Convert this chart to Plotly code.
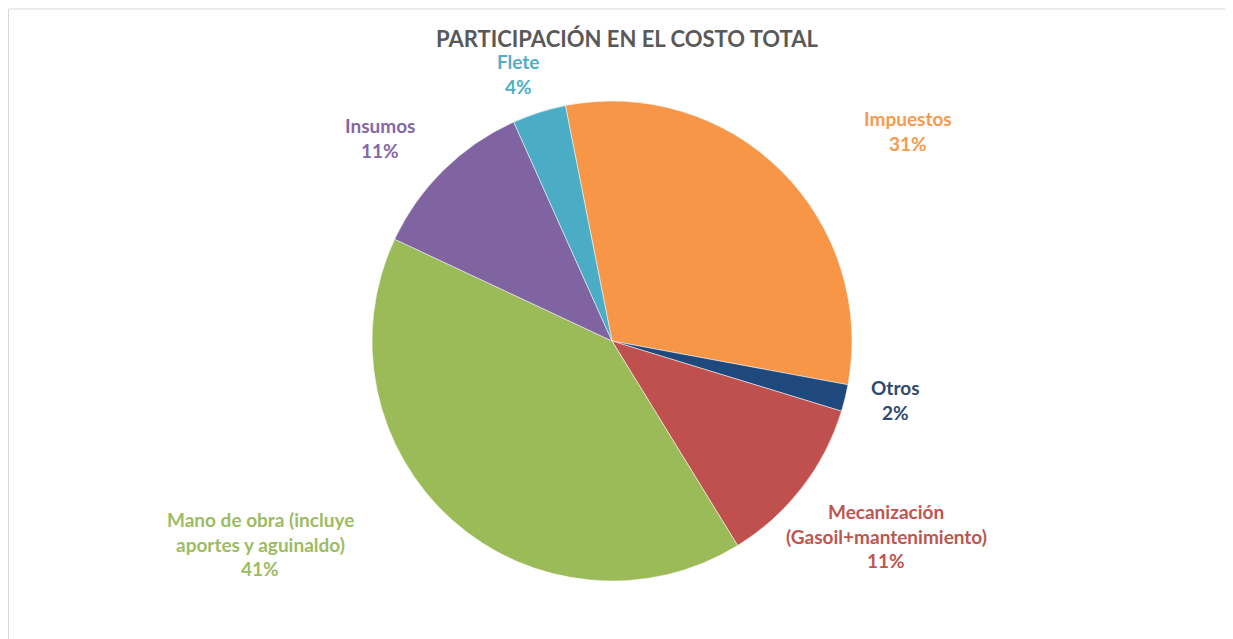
import plotly.graph_objects as go

W, H = 1233, 639
OFF = 8  # page offset of the rendered figure

labels = ["Impuestos", "Otros", "Mecanización<br>(Gasoil+mantenimiento)",
          "Mano de obra (incluye<br>aportes y aguinaldo)", "Insumos", "Flete"]
values = [31.0, 1.8, 11.5, 40.7, 11.3, 3.6]
pct_text = ["31%", "2%", "11%", "41%", "11%", "4%"]
colors = ["#F79646", "#1F497D", "#C0504D", "#9BBB59", "#8064A2", "#4BACC6"]
label_colors = ["#F59A4E", "#2E4A6E", "#BE5550", "#9DBC62", "#8468A4", "#4FAFC8"]
# label block centres (pixels) as placed in the reference
label_pos = [(908, 131), (895, 400), (886, 536), (260, 544), (380, 138), (518, 74)]

cx, cy, r = 612 - OFF, 341 - OFF, 240

fig = go.Figure()
fig.add_trace(go.Pie(
    labels=labels, values=values, sort=False, direction="clockwise",
    rotation=-11.2, textinfo="none", hoverinfo="label+percent",
    marker=dict(colors=colors, line=dict(color="white", width=0.5)),
    domain=dict(x=[(cx - r) / W, (cx + r) / W], y=[1 - (cy + r) / H, 1 - (cy - r) / H]),
    showlegend=False,
))

font_family = "Lato, Open Sans, sans-serif"
line_h = 24.5
annotations = []
for lab, pct, col, (px, py) in zip(labels, pct_text, label_colors, label_pos):
    lines = lab.split("<br>") + [pct]
    n = len(lines)
    for i, ln in enumerate(lines):
        y = py - OFF + (i - (n - 1) / 2) * line_h
        annotations.append(dict(
            x=(px - OFF) / W, y=1 - y / H, xref="paper", yref="paper",
            text="<b>" + ln + "</b>", showarrow=False, xanchor="center", yanchor="middle",
            font=dict(family=font_family, size=19, color=col),
        ))

annotations.append(dict(
    x=(627 - OFF) / W, y=1 - (38 - OFF) / H, xref="paper", yref="paper",
    text="<b>PARTICIPACIÓN EN EL COSTO TOTAL</b>", showarrow=False,
    xanchor="center", yanchor="middle",
    font=dict(family=font_family, size=22, color="#595959"),
))

fig.update_layout(
    width=W, height=H, margin=dict(l=0, r=0, t=0, b=0),
    paper_bgcolor="white", plot_bgcolor="white",
    annotations=annotations,
    shapes=[dict(type="rect", xref="paper", yref="paper",
                 x0=0.5 / W, x1=1.01, y0=-0.01, y1=1 - 1 / H,
                 line=dict(color="#D9D9D9", width=1))],
)

fig.write_html("out.html", post_script="document.body.style.overflow='hidden';")
